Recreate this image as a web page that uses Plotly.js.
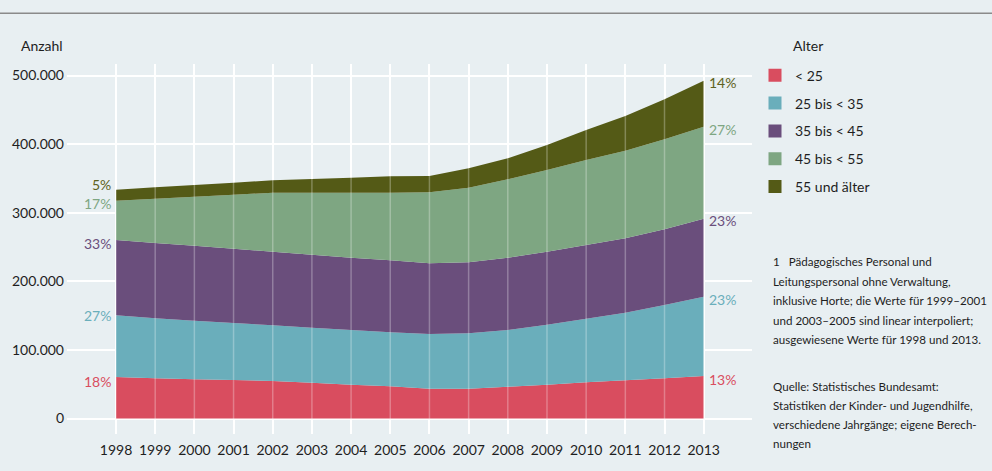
<!DOCTYPE html>
<html>
<head>
<meta charset="utf-8">
<script src="https://cdn.plot.ly/plotly-3.0.1.min.js"></script>
<style>
  html, body { margin: 0; padding: 0; background: #e8eff2; }
  #chart { width: 992px; height: 471px; }
</style>
</head>
<body>
<div id="chart"></div>
<script>
// ---- data ----
const years = [1998, 1999, 2000, 2001, 2002, 2003, 2004, 2005, 2006, 2007, 2008, 2009, 2010, 2011, 2012, 2013];
const seriesNames = ['< 25', '25 bis < 35', '35 bis < 45', '45 bis < 55', '55 und älter'];
const under25   = [60500, 58600, 57100, 56100, 54700, 52200, 49300, 46900, 43400, 43400, 46400, 49300, 52800, 55700, 58600, 62000];
const age25to35 = [89900, 87500, 85500, 83100, 81200, 80200, 79700, 78700, 79800, 80800, 82600, 87500, 92700, 98500, 106800, 115500];
const age35to45 = [109800, 109700, 109300, 108300, 107200, 106400, 105400, 105000, 103000, 103500, 105400, 106300, 107400, 108500, 110400, 113800];
const age45to55 = [57300, 64700, 71400, 78700, 86100, 90400, 94800, 98600, 103500, 108800, 114300, 119100, 123900, 127700, 131200, 134100];
const age55plus = [16000, 16500, 17100, 17500, 18000, 19900, 21800, 23800, 23800, 28200, 30600, 36500, 43700, 50600, 58300, 67000];
const pctLabels1998 = ['18%', '27%', '33%', '17%', '5%'];
const pctLabels2013 = ['13%', '23%', '23%', '27%', '14%'];
const yTickVals = [0, 100000, 200000, 300000, 400000, 500000];
const footnoteLines = [
  '1   Pädagogisches Personal und',
  'Leitungspersonal ohne Verwaltung,',
  'inklusive Horte; die Werte für 1999–2001',
  'und 2003–2005 sind linear interpoliert;',
  'ausgewiesene Werte für 1998 und 2013.'
];
const sourceLines = [
  'Quelle: Statistisches Bundesamt:',
  'Statistiken der Kinder- und Jugendhilfe,',
  'verschiedene Jahrgänge; eigene Berech-',
  'nungen'
];

// ---- styling ----
const colors = ['#d94d5f', '#6aaebb', '#6a4e7c', '#7ea682', '#545a16'];
const textColors = ['#d94d5f', '#6aaebb', '#6a4e7c', '#7ea682', '#5e6120'];
const FONT = 'Lato, "Open Sans", sans-serif';
const BG = '#e8eff2';
const TXT = '#1e1e1e';

// plot box in pixels
const L = 67, R = 752, T = 64, B = 434;
const px = x => (x - L) / (R - L);
const py = y => (B - y) / (B - T);

const allSeries = [under25, age25to35, age35to45, age45to55, age55plus];

const traces = [];
allSeries.forEach((vals, i) => {
  traces.push({
    type: 'scatter', x: years, y: vals, stackgroup: 'one', mode: 'none',
    fillcolor: colors[i], name: seriesNames[i], showlegend: false, hoverinfo: 'skip'
  });
});
// legend entries (square swatches)
allSeries.forEach((vals, i) => {
  traces.push({
    type: 'scatter', x: [null], y: [null], mode: 'markers', name: seriesNames[i],
    legendgroup: 'g' + i, showlegend: true, hoverinfo: 'skip',
    marker: { symbol: 'square', size: 13, color: colors[i], line: { width: 0 } }
  });
});

// cumulative tops for label placement
function cumTop(idx, k) {
  let s = 0;
  for (let j = 0; j <= k; j++) s += allSeries[j][idx];
  return s;
}
const leftShift = [-4.7, 0.3, -3.3, -2.6, 5.4];
const rightShift = [-4, -2.3, -2.3, -2.6, -2];

const annotations = [];
const last = years.length - 1;
for (let k = 0; k < 5; k++) {
  annotations.push({
    x: years[0], y: cumTop(0, k), xref: 'x', yref: 'y', text: pctLabels1998[k],
    showarrow: false, xanchor: 'right', yanchor: 'middle', xshift: -3, yshift: leftShift[k],
    font: { family: FONT, size: 14, color: textColors[k] }
  });
  annotations.push({
    x: years[last], y: cumTop(last, k), xref: 'x', yref: 'y', text: pctLabels2013[k],
    showarrow: false, xanchor: 'left', yanchor: 'middle', xshift: 3, yshift: rightShift[k],
    font: { family: FONT, size: 14, color: textColors[k] }
  });
}
// axis title "Anzahl"
annotations.push({
  x: px(19), y: py(45.7), xref: 'paper', yref: 'paper', text: 'Anzahl', showarrow: false,
  xanchor: 'left', yanchor: 'middle', font: { family: FONT, size: 14, color: TXT }
});
// legend title "Alter"
annotations.push({
  x: px(791), y: py(45.7), xref: 'paper', yref: 'paper', text: 'Alter', showarrow: false,
  xanchor: 'left', yanchor: 'middle', font: { family: FONT, size: 14, color: TXT }
});
footnoteLines.forEach((t, i) => {
  annotations.push({
    x: px(771), y: py(261.7 + i * 19.55), xref: 'paper', yref: 'paper', text: t, showarrow: false,
    xanchor: 'left', yanchor: 'middle', font: { family: FONT, size: 11.6, color: TXT }
  });
});
sourceLines.forEach((t, i) => {
  annotations.push({
    x: px(771), y: py(386 + i * 19.1), xref: 'paper', yref: 'paper', text: t, showarrow: false,
    xanchor: 'left', yanchor: 'middle', font: { family: FONT, size: 11.6, color: TXT }
  });
});

const shapes = [
  { type: 'line', xref: 'paper', yref: 'paper', x0: -0.2, x1: 1.6, y0: py(13.3), y1: py(13.3),
    line: { color: '#8a8a8a', width: 1.5 }, layer: 'above' }
];
// faint vertical grid lines visible through the areas
years.forEach(yr => {
  shapes.push({ type: 'line', xref: 'x', yref: 'paper', x0: yr, x1: yr, y0: 0, y1: 1,
    line: { color: 'rgba(255,255,255,0.28)', width: 1.5 }, layer: 'above' });
});

const layout = {
  width: 992, height: 471,
  margin: { l: L, r: 992 - R, t: T, b: 471 - B, pad: 0 },
  paper_bgcolor: BG, plot_bgcolor: BG,
  font: { family: FONT, size: 14, color: TXT },
  separators: ',.',
  xaxis: {
    range: [1996.749, 2014.233], tickvals: years, ticktext: years.map(String),
    showgrid: true, gridcolor: '#ffffff', gridwidth: 2, zeroline: false, showline: false,
    ticks: '', ticklabelstandoff: 6, tickfont: { family: FONT, size: 14, color: TXT }, fixedrange: true
  },
  yaxis: {
    range: [-22600, 516800], tickvals: yTickVals, tickformat: ',d',
    showgrid: true, gridcolor: '#ffffff', gridwidth: 2, zeroline: false, showline: false,
    ticks: '', ticklabelstandoff: 2, tickfont: { family: FONT, size: 14, color: TXT }, fixedrange: true
  },
  showlegend: true,
  legend: {
    x: px(755), y: py(59.7), xanchor: 'left', yanchor: 'top', xref: 'paper', yref: 'paper',
    bgcolor: 'rgba(0,0,0,0)', traceorder: 'grouped', tracegroupgap: 6.6,
    font: { family: FONT, size: 14, color: TXT }, itemclick: false, itemdoubleclick: false
  },
  annotations: annotations,
  shapes: shapes
};

Plotly.newPlot('chart', traces, layout, { displayModeBar: false, staticPlot: true });
</script>
</body>
</html>
